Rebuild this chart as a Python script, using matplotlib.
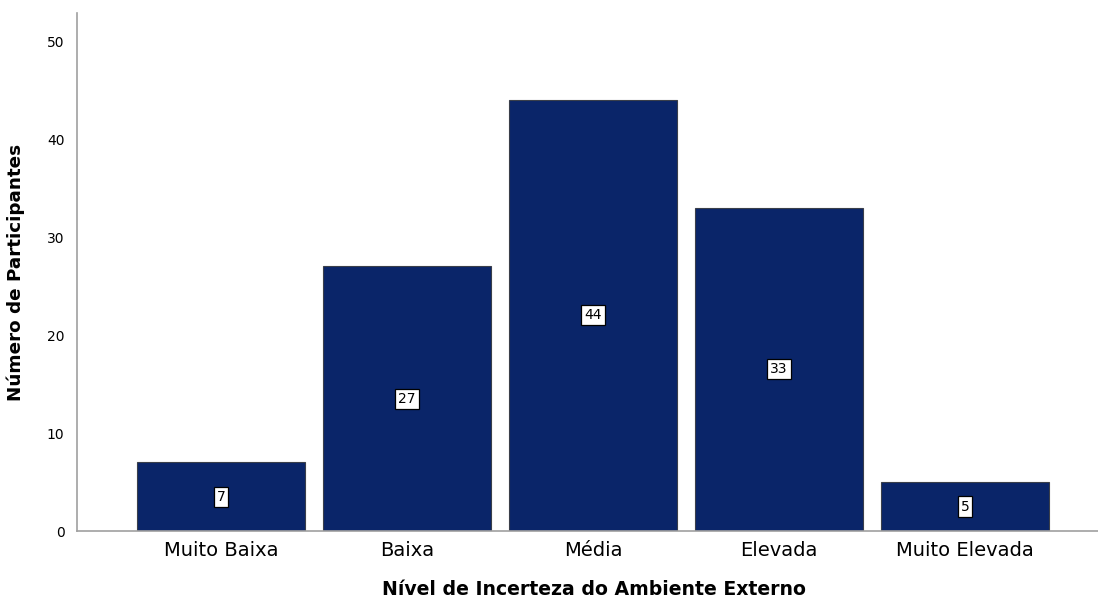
import numpy as np
import matplotlib.pyplot as plt

categorias = ['Muito Baixa', 'Baixa', 'Média', 'Elevada', 'Muito Elevada']
participantes = [7, 27, 44, 33, 5]

fig = plt.figure(figsize=(10.98, 6.02), dpi=100)
ax = fig.add_axes([0.0701, 0.1179, 0.9299, 0.8605])

x = np.arange(len(categorias))
bars = ax.bar(x, participantes, width=0.903, color='#0a2569',
              edgecolor='#3a3f4a', linewidth=0.8, zorder=2)

for xi, v in zip(x, participantes):
    ax.text(xi, v / 2, str(v), ha='center', va='center', fontsize=10,
            color='black', zorder=3,
            bbox=dict(boxstyle='square,pad=0.22', facecolor='white',
                      edgecolor='black', linewidth=0.9))

ax.set_xlim(-0.774, 4.715)
ax.set_ylim(0, 52.86)
ax.set_yticks([0, 10, 20, 30, 40, 50])
ax.set_xticks(x)
ax.set_xticklabels(categorias, fontsize=14)
ax.tick_params(axis='y', labelsize=10, length=0, pad=9)
ax.tick_params(axis='x', length=0, pad=7)

for s in ['top', 'right']:
    ax.spines[s].set_visible(False)
for s in ['left', 'bottom']:
    ax.spines[s].set_color('#a0a0a0')
    ax.spines[s].set_linewidth(1.2)

ax.set_xlabel('Nível de Incerteza do Ambiente Externo', fontsize=13.6,
              fontweight='bold', labelpad=16)
ax.xaxis.set_label_coords(0.506, -0.095)
ax.set_ylabel('Número de Participantes', fontsize=13.2, fontweight='bold',
              labelpad=16)

fig.savefig('out.png', dpi=100)
